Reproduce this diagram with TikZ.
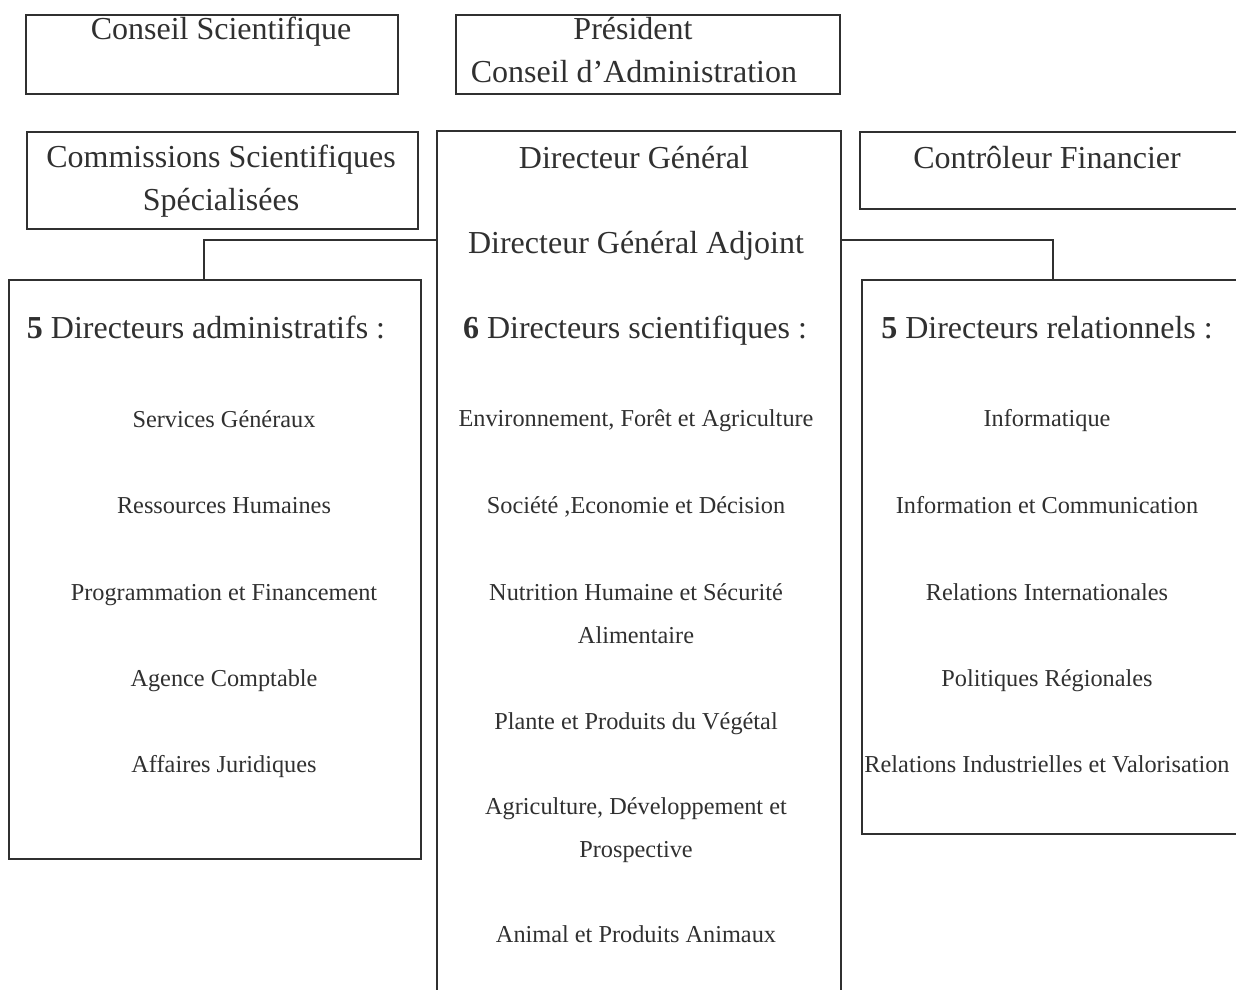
\documentclass[tikz,border=0pt]{standalone}
\usepackage{fontspec}
\setmainfont{Liberation Serif}
\definecolor{ink}{HTML}{303030}
\begin{document}
\begin{tikzpicture}[x=1pt,y=-1pt,
  box/.style={draw=ink,line width=1.8pt,inner sep=0pt,anchor=north west},
  big/.style={text=ink,inner sep=0pt,anchor=base,font=\fontsize{32}{43}\selectfont},
  bigm/.style={text=ink,inner sep=0pt,align=center,font=\fontsize{32}{43}\selectfont},
  small/.style={text=ink,inner sep=0pt,anchor=base,font=\fontsize{24.3}{43}\selectfont},
  smallm/.style={text=ink,inner sep=0pt,align=center,font=\fontsize{24.3}{43}\selectfont},
  link/.style={draw=ink,line width=1.8pt}]
\clip (0,0) rectangle (1236,989);
\fill[white] (0,0) rectangle (1236,989);
% boxes
\node[box,minimum width=372pt,minimum height=79pt] (cs) at (25,14) {};
\node[box,minimum width=384pt,minimum height=79pt] (pr) at (455,14) {};
\node[box,minimum width=391pt,minimum height=97pt] (css) at (26,131) {};
\node[box,minimum width=404pt,minimum height=880pt] (dg) at (436,130) {};
\node[box,minimum width=400pt,minimum height=77pt] (cf) at (859,131) {};
\node[box,minimum width=412pt,minimum height=579pt] (adm) at (8,279) {};
\node[box,minimum width=400pt,minimum height=554pt] (rel) at (861,279) {};
% texts
\node[big] (tcs) at (221,39) {Conseil Scientifique};
\node[big] (tpr) at (633,39) {Président};
\node[big] (tca) at (634,82) {Conseil d’Administration};
\node[bigm] (tcss) at (221,181) {Commissions Scientifiques\\Spécialisées};
\node[big] (tdg) at (634,168) {Directeur Général};
\node[big] (tdga) at (636,253) {Directeur Général Adjoint};
\node[big] (tcf) at (1047,168) {Contrôleur Financier};
\node[big] (tadm) at (206,338) {\textbf{5} Directeurs administratifs :};
\node[big] (tsci) at (635,338) {\textbf{6} Directeurs scientifiques :};
\node[big] (trel) at (1047,338) {\textbf{5} Directeurs relationnels :};
% left items
\node[small] (a1) at (224,427.5) {Services Généraux};
\node[small] (a2) at (224,513.5) {Ressources Humaines};
\node[small] (a3) at (224,600.5) {Programmation et Financement};
\node[small] (a4) at (224,686.5) {Agence Comptable};
\node[small] (a5) at (224,772.5) {Affaires Juridiques};
% middle items
\node[small] (s1) at (636,426.5) {Environnement, Forêt et Agriculture};
\node[small] (s2) at (636,513.5) {Société ,Economie et Décision};
\node[smallm] (s3) at (636,614) {Nutrition Humaine et Sécurité\\Alimentaire};
\node[small] (s4) at (636,729.5) {Plante et Produits du Végétal};
\node[smallm] (s5) at (636,830) {Agriculture, Développement et\\Prospective};
\node[small] (s6) at (636,942.5) {Animal et Produits Animaux};
% right items
\node[small] (r1) at (1047,426.5) {Informatique};
\node[small] (r2) at (1047,513.5) {Information et Communication};
\node[small] (r3) at (1047,600.5) {Relations Internationales};
\node[small] (r4) at (1047,686.5) {Politiques Régionales};
\node[small] (r5) at (1047,772.5) {Relations Industrielles et Valorisation};
% connectors
\coordinate (jl) at (204,240);
\coordinate (jr) at (1053,240);
\draw[link] (dg.west |- jl) -- (jl) -- (jl |- adm.north);
\draw[link] (dg.east |- jr) -- (jr) -- (jr |- rel.north);
\end{tikzpicture}
\end{document}
